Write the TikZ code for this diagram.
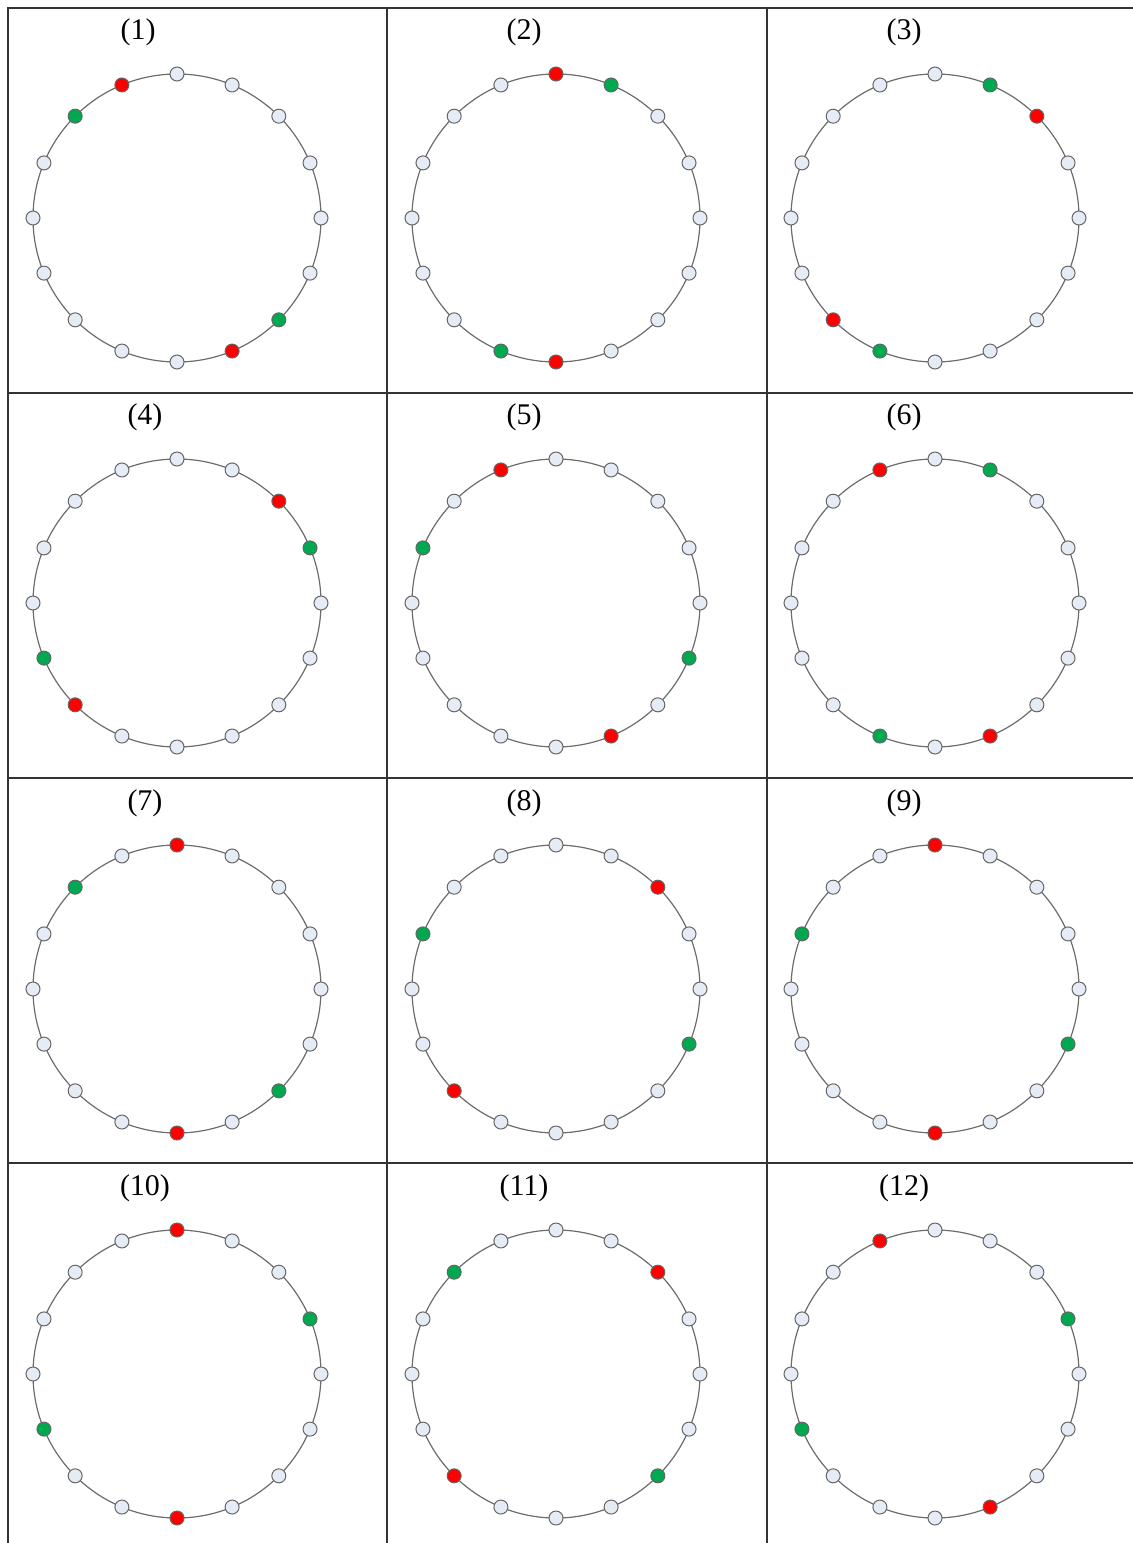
\documentclass[tikz,border=0pt]{standalone}
\usepackage{fontspec}
\setmainfont{Liberation Serif}
\usepackage{tikz}
\definecolor{idlefill}{HTML}{E6ECF6}
\definecolor{coolfill}{HTML}{00A850}

\begin{document}
\begin{tikzpicture}[x=0.5pt,y=-0.5pt,
		ring/.style={draw=gray!85!black, line width=0.6pt},
		idle/.style={circle, draw=gray!80!black, fill=idlefill, line width=0.5pt, minimum size=7pt, inner sep=0pt},
		hot/.style={idle, fill=red},
		cool/.style={idle, fill=coolfill},
		lbl/.style={font=\fontsize{15}{17}\selectfont}]
	\useasboundingbox (0,0) rectangle (1133,1543);
	% grid of the 12 cells
	\draw[line width=0.8pt, black!80] (8,1543) -- (8,8) -- (1133,8);
	\draw[line width=0.8pt, black!80] (387,8) -- (387,1543);
	\draw[line width=0.8pt, black!80] (767,8) -- (767,1543);
	\draw[line width=0.8pt, black!80] (8,393) -- (1133,393);
	\draw[line width=0.8pt, black!80] (8,778) -- (1133,778);
	\draw[line width=0.8pt, black!80] (8,1163) -- (1133,1163);
	% cell / centre x / centre y / label shift / red / red / green / green
	\foreach \c/\cx/\cy/\lx/\ra/\rb/\ga/\gb in {
			1/177/218/-39/15/7/14/6, 2/556/218/-32/0/8/1/9, 3/935/218/-31/2/10/1/9,
			4/177/603/-32/2/10/3/11, 5/556/603/-32/15/7/13/5, 6/935/603/-31/15/7/1/9,
			7/177/989/-32/0/8/14/6, 8/556/989/-32/2/10/13/5, 9/935/989/-31/0/8/13/5,
			10/177/1374/-32/0/8/3/11, 11/556/1374/-32/2/10/14/6, 12/935/1374/-31/15/7/3/11}{
		\node[lbl] (t\c) at (\cx+\lx,\cy-186) {(\c)};
		\draw[ring] (\cx,\cy) circle (144);
		\foreach \k in {0,...,15}{
			\def\kind{idle}
			\ifnum\k=\ra\relax \def\kind{hot}\fi
			\ifnum\k=\rb\relax \def\kind{hot}\fi
			\ifnum\k=\ga\relax \def\kind{cool}\fi
			\ifnum\k=\gb\relax \def\kind{cool}\fi
			\node[\kind] (n\c-\k) at ({\cx+144*sin(22.5*\k)},{\cy-144*cos(22.5*\k)}) {};
		}
	}
\end{tikzpicture}
\end{document}
